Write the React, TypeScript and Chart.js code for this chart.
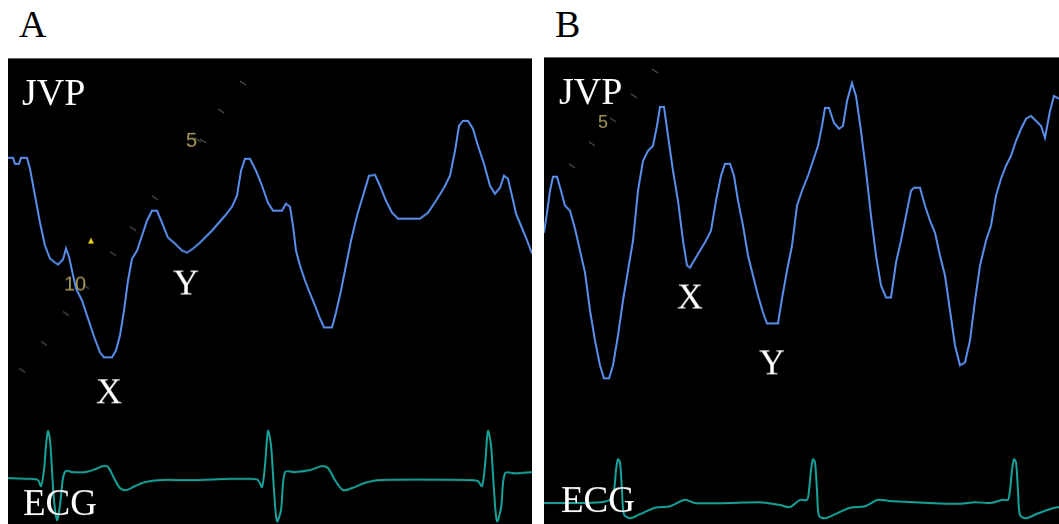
import React, { useEffect, useRef } from "react";
import { Chart, registerables } from "chart.js";

Chart.register(...registerables);

// ---------- Panel A data (time in s, JVP in mmHg, ECG in mV) ----------
const A_JVP_T = [0.0, 0.05, 0.07, 0.11, 0.13, 0.19, 0.22, 0.27, 0.32, 0.37, 0.42, 0.47, 0.5, 0.55, 0.58, 0.61, 0.64, 0.68, 0.74, 0.8, 0.86, 0.92, 0.96, 1.04, 1.08, 1.12, 1.16, 1.2, 1.24, 1.29, 1.34, 1.39, 1.44, 1.49, 1.54, 1.6, 1.67, 1.74, 1.79, 1.85, 1.92, 1.98, 2.04, 2.1, 2.17, 2.24, 2.29, 2.33, 2.37, 2.42, 2.48, 2.54, 2.6, 2.65, 2.74, 2.78, 2.82, 2.85, 2.88, 2.92, 2.97, 3.02, 3.07, 3.12, 3.16, 3.24, 3.28, 3.33, 3.38, 3.43, 3.49, 3.55, 3.61, 3.67, 3.72, 3.78, 3.84, 3.9, 4.12, 4.2, 4.28, 4.36, 4.42, 4.47, 4.51, 4.55, 4.6, 4.65, 4.7, 4.76, 4.82, 4.87, 4.92, 4.96, 5.0, 5.04, 5.08, 5.13, 5.18, 5.24];
const A_JVP_V = [18.35, 18.35, 18.05, 18.05, 18.35, 18.35, 17.8, 16.45, 15.1, 13.95, 13.3, 13.1, 13.0, 13.25, 13.8, 13.4, 12.7, 11.8, 11.2, 10.3, 9.4, 8.6, 8.35, 8.35, 8.7, 9.45, 10.7, 12.2, 13.3, 13.7, 14.45, 15.2, 15.7, 15.7, 15.1, 14.35, 14.05, 13.7, 13.6, 13.8, 14.1, 14.4, 14.7, 15.05, 15.45, 15.9, 16.45, 17.7, 18.3, 18.3, 17.7, 16.95, 16.1, 15.7, 15.7, 16.05, 15.9, 14.95, 13.7, 12.95, 12.2, 11.55, 10.95, 10.3, 9.85, 9.85, 10.6, 11.7, 12.95, 14.2, 15.45, 16.45, 17.45, 17.5, 16.95, 16.2, 15.6, 15.3, 15.3, 15.6, 16.2, 16.85, 17.45, 18.7, 19.95, 20.2, 20.2, 19.8, 18.95, 18.05, 16.95, 16.55, 16.85, 17.45, 17.3, 16.45, 15.55, 14.95, 14.35, 13.55];

const A_ECG_T = [0, 0.22, 0.3, 0.33, 0.36, 0.38, 0.4, 0.42, 0.44, 0.46, 0.49, 0.52, 0.55, 0.58, 0.64, 0.77, 0.87, 0.95, 1.0, 1.06, 1.12, 1.18, 1.27, 1.37, 1.52, 1.82, 2.22, 2.42, 2.5, 2.54, 2.57, 2.6, 2.63, 2.66, 2.69, 2.73, 2.77, 2.87, 3.02, 3.14, 3.2, 3.27, 3.35, 3.44, 3.57, 3.72, 4.62, 4.7, 4.74, 4.77, 4.8, 4.83, 4.86, 4.89, 4.93, 4.97, 5.07, 5.24];
const A_ECG_V = [0, -0.02, -0.05, -0.2, 0.2, 0.82, 1.18, 0.95, 0.2, -0.55, -1.05, -0.68, 0, 0.18, 0.15, 0.15, 0.22, 0.3, 0.28, 0, -0.25, -0.3, -0.2, -0.1, -0.05, -0.05, -0.02, -0.02, -0.05, -0.22, 0.32, 1.18, 0.82, -0.3, -1.08, -0.8, 0.15, 0.15, 0.2, 0.3, 0.25, -0.05, -0.3, -0.25, -0.12, -0.05, -0.05, -0.08, -0.2, 0.32, 1.18, 0.82, -0.3, -1.08, -0.75, 0.12, 0.12, 0.15];

// ---------- Panel B data ----------
const B_JVP_T = [0.0, 0.03, 0.06, 0.09, 0.13, 0.17, 0.21, 0.26, 0.31, 0.36, 0.41, 0.46, 0.51, 0.56, 0.6, 0.65, 0.69, 0.74, 0.79, 0.84, 0.89, 0.94, 0.99, 1.04, 1.09, 1.13, 1.16, 1.2, 1.24, 1.29, 1.34, 1.39, 1.43, 1.46, 1.5, 1.56, 1.62, 1.67, 1.72, 1.77, 1.81, 1.86, 1.9, 1.94, 1.99, 2.04, 2.09, 2.14, 2.19, 2.23, 2.34, 2.38, 2.43, 2.48, 2.53, 2.58, 2.64, 2.69, 2.74, 2.78, 2.81, 2.85, 2.9, 2.95, 2.99, 3.03, 3.08, 3.12, 3.17, 3.22, 3.27, 3.32, 3.37, 3.42, 3.47, 3.52, 3.57, 3.62, 3.67, 3.7, 3.76, 3.81, 3.86, 3.91, 3.96, 4.01, 4.06, 4.11, 4.16, 4.21, 4.26, 4.31, 4.36, 4.42, 4.47, 4.52, 4.57, 4.62, 4.67, 4.72, 4.77, 4.82, 4.87, 4.92, 4.97, 5.01, 5.06, 5.1, 5.15];
const B_JVP_V = [14.6, 15.6, 16.7, 17.4, 17.4, 16.7, 15.95, 15.7, 14.8, 13.7, 12.6, 10.7, 9.2, 7.95, 7.3, 7.3, 7.95, 9.45, 11.2, 12.7, 14.2, 16.7, 18.2, 18.7, 18.95, 19.95, 20.9, 20.9, 19.45, 17.7, 16.2, 14.2, 12.95, 12.85, 13.2, 13.7, 14.2, 14.7, 16.2, 17.45, 18.05, 18.05, 17.45, 16.2, 14.95, 13.45, 12.45, 11.45, 10.6, 10.05, 10.05, 11.3, 12.7, 13.95, 15.95, 16.7, 17.45, 18.2, 18.95, 19.95, 20.85, 20.85, 20.1, 19.8, 19.95, 21.2, 22.1, 21.45, 19.7, 17.7, 15.45, 13.45, 11.95, 11.35, 11.35, 13.1, 14.2, 15.45, 16.7, 16.85, 16.85, 15.95, 15.2, 14.6, 13.45, 12.45, 10.7, 8.95, 7.95, 8.1, 9.2, 11.2, 12.95, 14.2, 14.95, 16.45, 17.3, 17.95, 18.45, 19.2, 19.8, 20.3, 20.45, 20.2, 19.95, 19.35, 20.7, 21.45, 21.3];

const B_ECG_T = [0, 0.31, 0.56, 0.66, 0.7, 0.72, 0.74, 0.76, 0.78, 0.8, 0.86, 0.96, 1.11, 1.26, 1.41, 1.51, 1.86, 2.16, 2.36, 2.46, 2.56, 2.63, 2.65, 2.67, 2.69, 2.71, 2.73, 2.75, 2.81, 2.91, 3.06, 3.21, 3.34, 3.46, 3.86, 4.16, 4.31, 4.46, 4.59, 4.64, 4.66, 4.68, 4.7, 4.72, 4.74, 4.76, 4.82, 4.92, 5.06, 5.15];
const B_ECG_V = [0, 0, 0.02, 0.08, 0.32, 0.82, 1.1, 1.02, 0.32, -0.28, -0.38, -0.28, -0.12, -0.08, 0.08, 0, 0, 0.02, -0.05, -0.1, 0.08, 0.08, 0.32, 0.82, 1.1, 1.02, 0.32, -0.32, -0.38, -0.28, -0.12, -0.08, 0.08, 0.05, 0, -0.02, 0.02, 0, 0.08, 0.08, 0.32, 0.82, 1.1, 1.02, 0.32, -0.3, -0.38, -0.28, -0.15, -0.1];

const JVP_COLOR = "#5b8fee";
const ECG_COLOR = "#17a39b";

type Label = { text: string; x: number; y: number; size: number; color: string; family: string };
type Dash = [number, number];

function zip(t: number[], v: number[]) {
  return t.map((x, i) => ({ x, y: v[i] }));
}

const labelPlugin = {
  id: "panelLabels",
  afterDatasetsDraw(chart: any, _args: any, opts: any) {
    const ctx = chart.ctx;
    ctx.save();
    (opts.dashes || []).forEach((d: Dash) => {
      ctx.strokeStyle = "rgba(150,150,130,0.55)";
      ctx.lineWidth = 1.2;
      ctx.beginPath();
      ctx.moveTo(d[0] - 3, d[1] - 2);
      ctx.lineTo(d[0] + 3, d[1] + 2);
      ctx.stroke();
    });
    if (opts.triangle) {
      const [tx, ty] = opts.triangle;
      ctx.fillStyle = "#e8d21a";
      ctx.beginPath();
      ctx.moveTo(tx, ty - 4);
      ctx.lineTo(tx - 3, ty + 2);
      ctx.lineTo(tx + 3, ty + 2);
      ctx.closePath();
      ctx.fill();
    }
    (opts.labels || []).forEach((l: Label) => {
      ctx.font = `${l.size}px ${l.family}`;
      ctx.fillStyle = l.color;
      ctx.textBaseline = "alphabetic";
      ctx.textAlign = "left";
      ctx.fillText(l.text, l.x, l.y);
    });
    ctx.restore();
  },
};

const SERIF = '"Liberation Serif", "Times New Roman", serif';
const SANS = '"Liberation Sans", Arial, sans-serif';

function Panel(props: {
  left: number;
  top: number;
  width: number;
  height: number;
  jT: number[];
  jV: number[];
  eT: number[];
  eV: number[];
  ecgBase: number; // mV at bottom
  labels: Label[];
  dashes: Dash[];
  triangle?: [number, number];
}) {
  const ref = useRef<HTMLCanvasElement | null>(null);
  useEffect(() => {
    if (!ref.current) return;
    const { width, height } = props;
    const chart = new Chart(ref.current, {
      type: "line",
      data: {
        datasets: [
          {
            data: zip(props.jT, props.jV),
            borderColor: JVP_COLOR,
            borderWidth: 2,
            pointRadius: 0,
            tension: 0,
            yAxisID: "yJ",
          },
          {
            data: zip(props.eT, props.eV),
            borderColor: ECG_COLOR,
            borderWidth: 2,
            pointRadius: 0,
            tension: 0.3,
            yAxisID: "yE",
          },
        ],
      },
      options: {
        responsive: false,
        maintainAspectRatio: false,
        animation: false,
        layout: { padding: 0 },
        plugins: {
          legend: { display: false },
          tooltip: { enabled: false },
          panelLabels: { labels: props.labels, dashes: props.dashes, triangle: props.triangle },
        } as any,
        scales: {
          x: { type: "linear", display: false, min: 0, max: width / 100 },
          yJ: { type: "linear", display: false, min: 0, max: height / 20 },
          yE: { type: "linear", display: false, min: props.ecgBase, max: props.ecgBase + height / 40 },
        },
      },
      plugins: [labelPlugin],
    });
    return () => chart.destroy();
  }, []);
  return (
    <canvas
      ref={ref}
      width={props.width}
      height={props.height}
      style={{
        position: "absolute",
        left: props.left,
        top: props.top,
        width: props.width,
        height: props.height,
        background: "#000",
        borderTop: "1px solid #666",
        boxSizing: "border-box",
      }}
    />
  );
}

const white = "#ffffff";
const yel = "#a8985a";

const A_LABELS: Label[] = [
  { text: "JVP", x: 14, y: 46, size: 38, color: white, family: SERIF },
  { text: "ECG", x: 15, y: 457, size: 37, color: white, family: SERIF },
  { text: "X", x: 88, y: 345, size: 36, color: white, family: SERIF },
  { text: "Y", x: 165, y: 236, size: 36, color: white, family: SERIF },
  { text: "5", x: 178, y: 88, size: 20, color: yel, family: SANS },
  { text: "10", x: 56, y: 232, size: 20, color: yel, family: SANS },
];
const A_DASHES: Dash[] = [[14, 312], [36, 285], [58, 255], [105, 195], [125, 170], [147, 139], [190, 81], [213, 52], [235, 24], [195, 82], [78, 228]];

const B_LABELS: Label[] = [
  { text: "JVP", x: 15, y: 46, size: 38, color: white, family: SERIF },
  { text: "ECG", x: 17, y: 455, size: 37, color: white, family: SERIF },
  { text: "X", x: 133, y: 251, size: 36, color: white, family: SERIF },
  { text: "Y", x: 215, y: 317, size: 36, color: white, family: SERIF },
  { text: "5", x: 54, y: 70, size: 18, color: yel, family: SANS },
];
const B_DASHES: Dash[] = [[28, 108], [48, 86], [90, 38], [111, 13], [69, 62]];

export default function App() {
  return (
    <div style={{ position: "absolute", left: 0, top: 0, width: 1059, height: 524, background: "#fff", overflow: "hidden" }}>
      <div style={{ position: "absolute", left: 19, top: 2, font: `38px ${SERIF}`, color: "#000" }}>A</div>
      <div style={{ position: "absolute", left: 555, top: 2, font: `38px ${SERIF}`, color: "#000" }}>B</div>
      <Panel
        left={8}
        top={58}
        width={524}
        height={466}
        jT={A_JVP_T}
        jV={A_JVP_V}
        eT={A_ECG_T}
        eV={A_ECG_V}
        ecgBase={-1.15}
        labels={A_LABELS}
        dashes={A_DASHES}
        triangle={[83, 183]}
      />
      <Panel
        left={544}
        top={57}
        width={515}
        height={467}
        jT={B_JVP_T}
        jV={B_JVP_V}
        eT={B_ECG_T}
        eV={B_ECG_V}
        ecgBase={-0.525}
        labels={B_LABELS}
        dashes={B_DASHES}
      />
    </div>
  );
}
